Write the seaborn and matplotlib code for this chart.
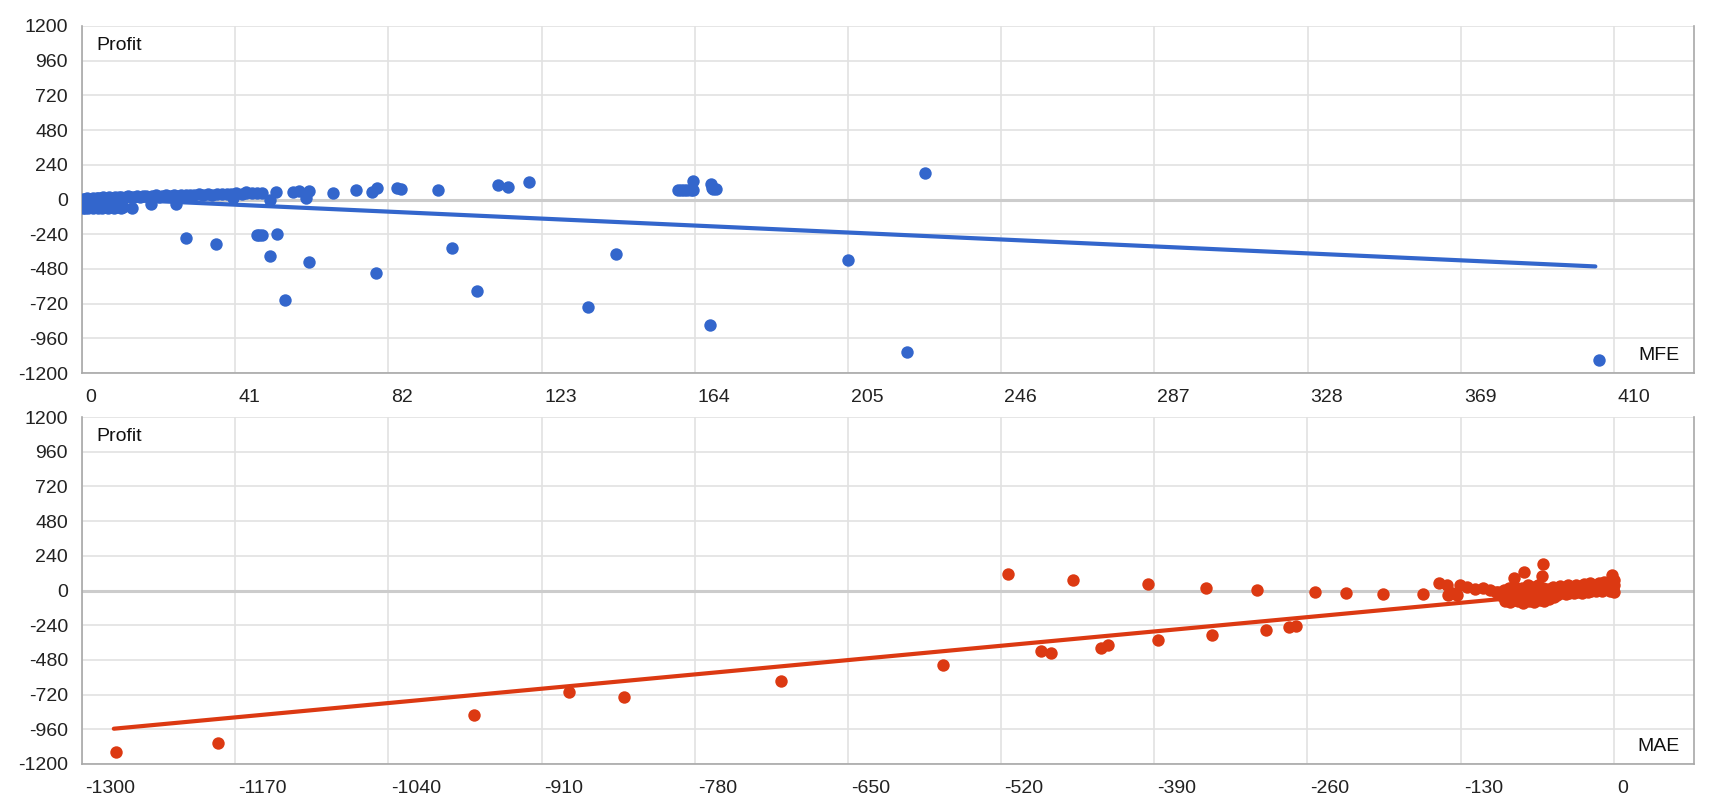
import numpy as np
import pandas as pd
import matplotlib
matplotlib.use("Agg")
import matplotlib.pyplot as plt
import matplotlib.transforms as mtransforms
import seaborn as sns

# --- MFE panel data ---
# dense band of winners, profit roughly follows MFE
mfe_band_x = [0.2, 0.5, 0.8, 1.1, 1.4, 1.8, 2.2, 2.6, 3.0, 3.4,
              3.9, 4.3, 4.8, 5.2, 5.7, 6.1, 6.6, 7.1, 7.6, 8.1,
              8.7, 9.2, 9.8, 10.4, 11.0, 11.7, 12.4, 13.1, 13.9, 14.6,
              15.4, 16.2, 17.0, 17.9, 18.8, 19.7, 20.6, 21.5, 22.5, 23.5,
              24.5, 25.5, 26.6, 27.7, 28.8, 30.0, 31.2, 32.4, 33.6, 34.8,
              36.1, 37.4, 38.7, 40.0, 41.3, 42.7, 44.0, 45.4, 46.8, 48.1]
mfe_band_y = [2, -3, 5, 1, 8, 3, -2, 6, 10, 4,
              12, 7, 3, 9, 14, 6, 11, 16, 8, 13,
              18, 10, 15, 20, 12, 17, 22, 14, 19, 24,
              16, 21, 26, 18, 23, 28, 20, 25, 30, 24,
              29, 26, 31, 28, 33, 30, 35, 32, 37, 34,
              39, 36, 41, 38, 43, 40, 45, 42, 47, 44]
# small losers bunched near zero MFE
mfe_low_x = [0.1, 0.3, 0.4, 0.6, 0.8, 0.9, 1.1, 1.3, 1.5, 1.7,
             1.9, 2.1, 2.4, 2.7, 3.0, 3.3, 3.6, 3.9, 4.2, 4.6,
             5.0, 5.4, 5.8, 6.2, 6.6, 7.0, 7.5, 8.0, 8.5, 9.0,
             9.5, 10.0, 10.5, 11.0, 0.2, 1.6, 3.4, 5.6, 8.2, 13.4]
mfe_low_y = [-20, -62, -5, -45, -30, -58, -12, -50, -38, -60,
             -22, -55, -8, -42, -60, -28, -52, -15, -58, -35,
             -48, -60, -25, -55, -40, -60, -18, -50, -58, -32,
             -55, -45, -60, -50, -35, -48, -10, -55, -45, -58]
# scattered trades
mfe_other_x = [18.5, 25.1, 27.9, 35.9, 46.8, 47.5, 48.2, 52.1, 50.3, 54.3,
               60.8, 78.7, 99.1, 105.6, 135.4, 142.9, 168.1, 204.9, 220.7, 406.0,
               51.8, 56.6, 58.2, 60.8, 60.0, 50.3, 40.4, 67.1, 73.2, 77.7,
               78.9, 84.3, 85.3, 95.4, 111.2, 114.1, 119.6, 225.7, 159.5, 160.3,
               161.2, 162.0, 162.9, 163.6, 163.6, 168.2, 168.5, 169.0, 169.7, 44.0]
mfe_other_y = [-28, -28, -265, -307, -247, -247, -247, -242, -390, -697,
               -429, -510, -337, -630, -745, -376, -866, -420, -1057, -1110,
               51, 51, 58, 60, 7, 0, 9, 44, 67, 51,
               78, 78, 74, 67, 102, 83, 118, 180, 65, 65,
               65, 65, 66, 68, 125, 104, 80, 72, 72, 50]
mfe_trend_x = [0.2, 405.0]
mfe_trend_y = [12, -463]
mfe_ticks = [0, 41, 82, 123, 164, 205, 246, 287, 328, 369, 410]

# --- MAE panel data ---
mae_other_x = [-1271, -1185, -967, -887, -840, -707, -569, -514, -486, -478,
               -459, -435, -429, -395, -387, -346, -341, -303, -295, -276,
               -270, -254, -227, -196, -162, -148, -142, -141, -133, -131,
               -125, -111, -105, -100, -85, -76, -60, -61, -118, -137]
mae_other_y = [-1115, -1055, -863, -699, -740, -626, -512, 115, -418, -434,
               74, -395, -374, 44, -339, 18, -309, 2, -270, -249,
               -245, -9, -16, -21, -23, 51, 37, -30, -32, 37,
               21, 16, 5, -7, 85, 127, 182, 102, 10, -20]
mae_cluster_x = [-98, -95, -93, -92, -90, -89, -88, -87, -86, -85,
                 -84, -83, -82, -81, -80, -79, -78, -77, -76, -75,
                 -74, -73, -72, -71, -70, -69, -68, -67, -66, -65,
                 -64, -63, -62, -61, -60, -59, -58, -57, -56, -55,
                 -54, -53, -52, -51, -50, -49, -48, -47, -46, -45,
                 -44, -43, -42, -41, -40, -39, -38, -37, -36, -35,
                 -34, -33, -32, -31, -30, -29, -28, -27, -26, -25,
                 -24, -23, -22, -21, -20, -19, -18, -17, -16, -15,
                 -14, -13, -12, -11, -10, -9, -8, -7, -6, -5,
                 -4, -3, -2, -1, 0, 0, 0, -1, -2, -3]
mae_cluster_y = [-10, -40, 5, -70, -25, 15, -80, -55, -5, 30,
                 -65, -35, 10, -75, -50, -20, 20, -85, -60, -30,
                 0, 40, -70, -45, -15, 25, -80, -55, -25, 5,
                 35, -65, -40, -10, 20, -75, -50, -20, 10, -60,
                 -35, -5, 25, -45, -15, 15, -30, 0, 30, -20,
                 10, -10, 20, -25, 5, 35, -15, 15, -5, 25,
                 -20, 10, 40, -10, 20, 0, 30, -15, 15, 45,
                 5, 35, -10, 20, 50, 0, 30, 10, 40, -5,
                 25, 55, 15, 45, 0, 30, 60, 10, 40, 20,
                 50, -5, 30, 10, 40, -10, 70, 60, 108, 20]
mae_trend_x = [-1273, 0]
mae_trend_y = [-956, 14]
mae_ticks = [-1300, -1170, -1040, -910, -780, -650, -520, -390, -260, -130, 0]

profit_ticks = list(range(-1200, 1201, 240))

BLUE = "#3366cc"
RED = "#dc3912"

sns.set_theme(style="white")
plt.rcParams['font.family'] = ['Liberation Sans', 'DejaVu Sans']
plt.rcParams['axes.unicode_minus'] = False   # plain hyphen like the original

mfe_df = pd.DataFrame({
    "MFE": mfe_band_x + mfe_low_x + mfe_other_x,
    "Profit": mfe_band_y + mfe_low_y + mfe_other_y,
})
mae_df = pd.DataFrame({
    "MAE": mae_cluster_x + mae_other_x,
    "Profit": mae_cluster_y + mae_other_y,
})

fig = plt.figure(figsize=(17.2, 8), dpi=100)
ax1 = fig.add_axes([82 / 1720, 427 / 800, 1612 / 1720, 347 / 800])
ax2 = fig.add_axes([82 / 1720, 36 / 800, 1612 / 1720, 347 / 800])


def draw_panel(ax, df, xcol, trend_x, trend_y, color, ticks, xlim, name):
    sns.lineplot(x=trend_x, y=trend_y, color=color, lw=3, ax=ax, zorder=3)
    sns.scatterplot(data=df, x=xcol, y="Profit", color=color, s=80,
                    linewidth=0, ax=ax, zorder=4)
    ax.set_xlim(*xlim)
    ax.set_ylim(-1200, 1200)
    ax.set_xticks(ticks)
    ax.set_yticks(profit_ticks)
    ax.set_xlabel("")
    ax.set_ylabel("")
    ax.set_axisbelow(True)
    ax.grid(True, color="#e2e2e2", lw=1.2)
    ax.axhline(0, color="#cccccc", lw=2.2, zorder=1)
    ax.tick_params(axis="both", length=7, width=1, color="#cccccc",
                   labelsize=14, labelcolor="#222222")
    ax.tick_params(axis="y", pad=3)
    ax.tick_params(axis="x", pad=4.5)
    for side in ["left", "bottom", "right"]:
        ax.spines[side].set_visible(True)
        ax.spines[side].set_color("#a8a8a8")
        ax.spines[side].set_linewidth(1.2)
    ax.spines["top"].set_visible(False)
    ax.text(0.0087, 0.943, "Profit", transform=ax.transAxes,
            fontsize=14, ha="left", va="center", color="#111111")
    ax.text(0.9913, 0.049, name, transform=ax.transAxes,
            fontsize=14, ha="right", va="center", color="#111111")
    # labels start at the tick, like the original
    shift = mtransforms.ScaledTranslation(3 / 100, 0, fig.dpi_scale_trans)
    for lab in ax.get_xticklabels():
        lab.set_horizontalalignment("left")
        lab.set_transform(lab.get_transform() + shift)


draw_panel(ax1, mfe_df, "MFE", mfe_trend_x, mfe_trend_y, BLUE,
           mfe_ticks, (0, 431.4), "MFE")
draw_panel(ax2, mae_df, "MAE", mae_trend_x, mae_trend_y, RED,
           mae_ticks, (-1300, 68), "MAE")

fig.savefig("out.png", dpi=100)
